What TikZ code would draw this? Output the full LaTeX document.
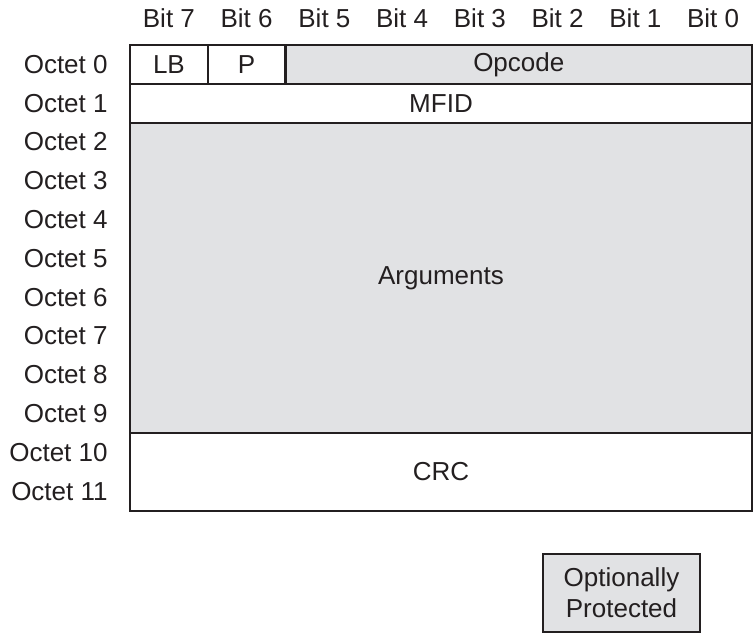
\documentclass[tikz,border=0pt]{standalone}
\usepackage{fontspec}
\setmainfont{Liberation Sans}
\definecolor{pktgray}{RGB}{225,226,228}
\definecolor{pktink}{RGB}{35,31,32}
\usetikzlibrary{positioning}

\tikzset{
  field/.style={draw=pktink, line width=1pt, inner sep=0pt, minimum height=19.4pt, text=pktink},
  shaded/.style={field, fill=pktgray},
  bitlbl/.style={inner sep=0pt, text=pktink},
  octlbl/.style={inner sep=0pt, anchor=east, text=pktink}
}

\begin{document}
\begin{tikzpicture}[x=0.5pt, y=-0.5pt, font=\fontsize{13}{15.6}\selectfont]
  \useasboundingbox (0,0) rectangle (756,634);

  %% Bit header
  \node[bitlbl] (b7) at (168.9,18) {Bit 7};
  \node[bitlbl] (b6) at (246.6,18) {Bit 6};
  \node[bitlbl] (b5) at (324.4,18) {Bit 5};
  \node[bitlbl] (b4) at (402.1,18) {Bit 4};
  \node[bitlbl] (b3) at (479.9,18) {Bit 3};
  \node[bitlbl] (b2) at (557.6,18) {Bit 2};
  \node[bitlbl] (b1) at (635.4,18) {Bit 1};
  \node[bitlbl] (b0) at (713.1,18) {Bit 0};

  %% Octet labels
  \node[octlbl] (o0) at (108,64.4) {Octet 0};
  \node[octlbl] (o1) at (108,103.2) {Octet 1};
  \node[octlbl] (o2) at (108,142) {Octet 2};
  \node[octlbl] (o3) at (108,180.8) {Octet 3};
  \node[octlbl] (o4) at (108,219.6) {Octet 4};
  \node[octlbl] (o5) at (108,258.4) {Octet 5};
  \node[octlbl] (o6) at (108,297.2) {Octet 6};
  \node[octlbl] (o7) at (108,336) {Octet 7};
  \node[octlbl] (o8) at (108,374.8) {Octet 8};
  \node[octlbl] (o9) at (108,413.6) {Octet 9};
  \node[octlbl] (o10) at (108,452.4) {Octet 10};
  \node[octlbl] (o11) at (108,491.2) {Octet 11};

  %% Fields
  \node[field, minimum width=38.875pt] (lb) at (168.9,64.4) {LB};
  \node[field, minimum width=38.875pt] (p) at (246.6,64.4) {P};
  \node[shaded, minimum width=233.25pt] (opcode) at (518.8,64.4) {Opcode};
  \node[field, minimum width=311pt] (mfid) at (441,103.2) {MFID};
  \node[shaded, minimum width=311pt, minimum height=155.2pt] (args) at (441,277.8) {Arguments};
  \node[field, minimum width=311pt, minimum height=38.8pt] (crc) at (441,471.8) {CRC};

  %% Legend
  \node[shaded, minimum width=78.5pt, minimum height=39pt, align=center] (legend) at (621.5,593) {Optionally\\Protected};
\end{tikzpicture}
\end{document}
